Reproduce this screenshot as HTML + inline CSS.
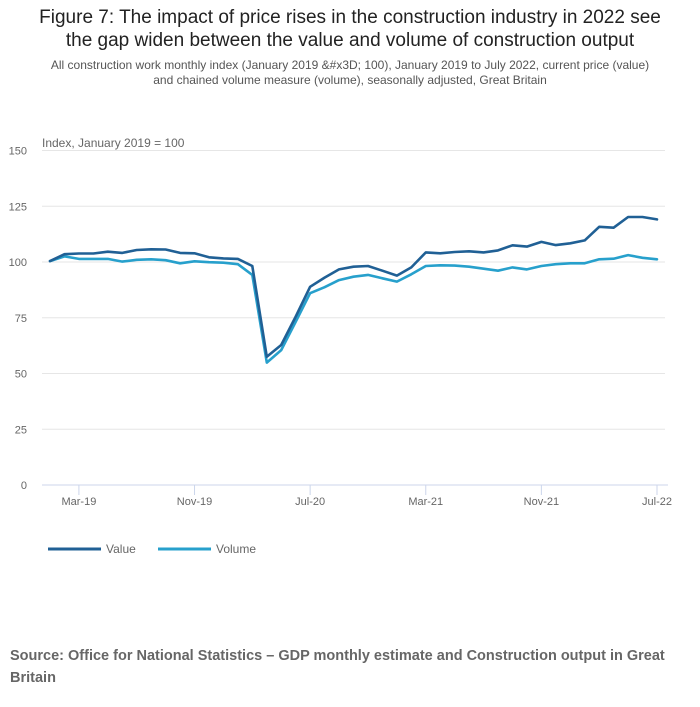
<!DOCTYPE html>
<html><head><meta charset="utf-8"><style>
body{margin:0;background:#fff;font-family:"Liberation Sans",sans-serif;}
#wrap{position:relative;width:700px;height:707px;overflow:hidden;}
.t{position:absolute;text-align:center;width:700px;left:0;}
</style></head><body>
<div id="wrap">
<div class="t" style="top:6px;font-size:19px;line-height:23px;color:#222;">Figure 7: The impact of price rises in the construction industry in 2022 see<br>the gap widen between the value and volume of construction output</div>
<div class="t" style="top:58px;font-size:12px;line-height:15px;color:#555;">All construction work monthly index (January 2019 &amp;#x3D; 100), January 2019 to July 2022, current price (value)<br>and chained volume measure (volume), seasonally adjusted, Great Britain</div>
<svg id="chart" width="700" height="600" style="position:absolute;left:0;top:0"></svg>
<div style="position:absolute;left:10px;top:645px;width:685px;font-size:14.5px;line-height:22px;font-weight:bold;color:#666;">Source: Office for National Statistics – GDP monthly estimate and Construction output in Great Britain</div>
</div>
<script>
const months=["Jan-19","Feb-19","Mar-19","Apr-19","May-19","Jun-19","Jul-19","Aug-19","Sep-19","Oct-19","Nov-19","Dec-19","Jan-20","Feb-20","Mar-20","Apr-20","May-20","Jun-20","Jul-20","Aug-20","Sep-20","Oct-20","Nov-20","Dec-20","Jan-21","Feb-21","Mar-21","Apr-21","May-21","Jun-21","Jul-21","Aug-21","Sep-21","Oct-21","Nov-21","Dec-21","Jan-22","Feb-22","Mar-22","Apr-22","May-22","Jun-22","Jul-22"];
const valueSeries=[100.4,103.5,103.8,103.8,104.6,104.1,105.4,105.7,105.6,104.1,103.9,102.1,101.6,101.4,98.2,57.5,62.8,75.5,88.9,93,96.7,97.9,98.2,96.1,93.9,97.6,104.3,103.9,104.5,104.8,104.3,105.2,107.5,106.9,109,107.6,108.4,109.7,115.8,115.4,120.2,120.2,119.1];
const volumeSeries=[100.4,102.5,101.4,101.4,101.4,100.2,101,101.2,100.8,99.4,100.3,99.9,99.7,99,94.2,54.9,60.5,73.2,86,88.7,91.9,93.4,94.2,92.7,91.2,94.5,98.2,98.5,98.4,97.9,97,96.1,97.6,96.7,98.2,99,99.4,99.4,101.2,101.5,103.1,101.9,101.2];
const yTicks=[0,25,50,75,100,125,150];
const xTickLabels=["Mar-19","Nov-19","Jul-20","Mar-21","Nov-21","Jul-22"];
const NS="http://www.w3.org/2000/svg";
const svg=document.getElementById('chart');
const x0=50,x1=657,y0=485,y150=150.5;
function xs(i){return x0+(x1-x0)*i/(months.length-1);}
function ys(v){return y0-(y0-y150)*v/150;}
function mk(t,a){const e=document.createElementNS(NS,t);for(const k in a)e.setAttribute(k,a[k]);svg.appendChild(e);return e;}
yTicks.forEach(v=>{
 if(v>0){const g=mk('line',{x1:42,x2:665,y1:ys(v),y2:ys(v),stroke:'#e6e6e6','stroke-width':1});
 
 }
 const t=mk('text',{x:27,y:ys(v)+4,'text-anchor':'end','font-size':11,fill:'#666','font-family':'Liberation Sans, sans-serif'});
 t.textContent=v;
 
 
});
const yt=mk('text',{x:42,y:147,'font-size':12,fill:'#666','font-family':'Liberation Sans, sans-serif'});
yt.textContent='Index, January 2019 = 100';


const ax=mk('line',{x1:42,x2:668,y1:y0,y2:y0,stroke:'#ccd6eb','stroke-width':1});


xTickLabels.forEach(l=>{
 const i=months.indexOf(l);const x=xs(i);
 const tk=mk('line',{x1:x,x2:x,y1:y0,y2:y0+10,stroke:'#ccd6eb','stroke-width':1});
 
 
 const t=mk('text',{x:x,y:505,'text-anchor':'middle','font-size':11,fill:'#666','font-family':'Liberation Sans, sans-serif'});
 t.textContent=l;
 
 
});
function line(data,color,name){
 const d=data.map((v,i)=>(i?'L':'M')+xs(i).toFixed(1)+' '+ys(v).toFixed(1)).join(' ');
 const p=mk('path',{d:d,fill:'none',stroke:color,'stroke-width':2.6,'stroke-linejoin':'round','stroke-linecap':'round'});
 
 
}
line(volumeSeries,'#27a0cc','volume-line');
line(valueSeries,'#206095','value-line');
[['Value','#206095',48],['Volume','#27a0cc',158]].forEach(([n,c,x])=>{
 const l=mk('line',{x1:x,x2:x+53,y1:549,y2:549,stroke:c,'stroke-width':3});
 
 
 const t=mk('text',{x:x+58,y:553,'font-size':12,fill:'#666','font-family':'Liberation Sans, sans-serif'});
 t.textContent=n;
 
 
});
</script>
</body></html>
